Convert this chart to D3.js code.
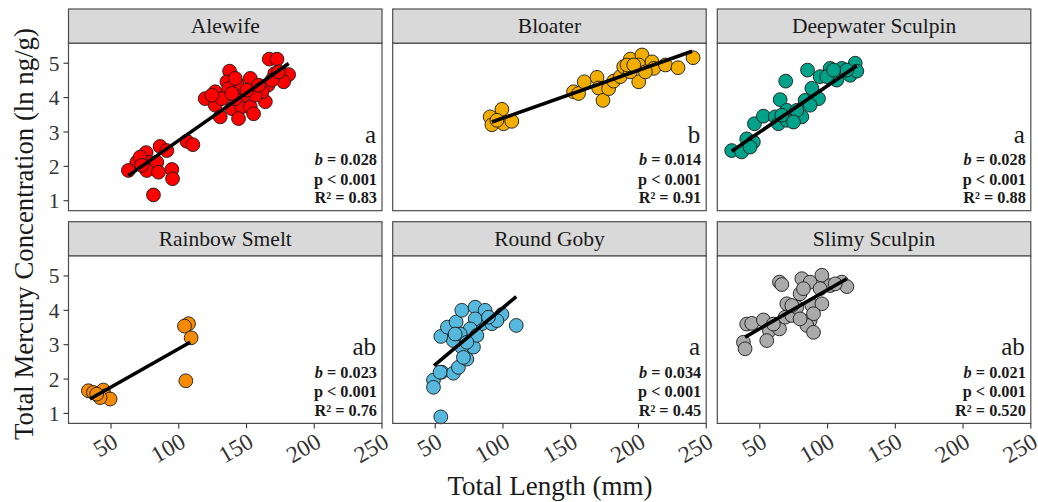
<!DOCTYPE html>
<html><head><meta charset="utf-8">
<script src="https://cdn.jsdelivr.net/npm/d3@7"></script>
<style>
body{margin:0;background:#fff}
svg{display:block}
text{font-family:"Liberation Serif","Times New Roman",serif}
</style>
</head><body>
<svg id="c" width="1038" height="502"></svg>
<script>
const species = ["Alewife","Bloater","Deepwater Sculpin","Rainbow Smelt","Round Goby","Slimy Sculpin"];
const colors = ["#ff0000","#f2ae00","#00a38a","#f58a07","#56b8dc","#aaaaaa"];

const alewifeLength = [166.8,172.5,137.5,152.8,181.1,177.4,170.8,165.8,135.5,142.9,126.9,136.8,119.5,126.9,131.8,139.2,146.6,152.8,155.2,144.1,130.6,163.9,161.4,156.5,147.8,141.7,139.2,150.3,141.7,168.8,173.7,158.9,124.4,106,110.4,86.2,91.2,75.9,69,62.8,77.6,83.8,76.4,85,94.9,95.4,81.3,71.5,72.7];
const alewifeHg = [5.12,5.12,4.77,4.56,4.67,4.46,4.70,4.36,4.46,4.41,4.17,4.26,3.97,3.78,3.97,3.68,3.73,3.73,3.53,3.39,3.44,3.88,4.17,4.07,4.07,3.97,4.12,4.22,4.56,4.51,4.75,4.36,4.07,2.73,2.63,2.58,2.46,2.40,2.12,1.88,2.12,2.12,1.88,1.83,1.91,1.64,1.17,2.27,2.03];

const bloaterLength = [90.5,99.2,91.8,100.4,106.5,95.5,152.1,155.8,160,169.4,170.6,173.8,178,181.7,186.6,189.1,194,202.6,200.2,200.2,210,211.3,219.9,229.2,240.3,194,205.1,191.6,196.5];
const bloaterHg = [3.44,3.66,3.21,3.24,3.31,3.34,4.17,4.12,4.46,4.59,4.28,3.92,4.26,4.48,4.61,4.90,5.12,5.24,4.95,4.46,5.04,4.85,4.95,4.87,5.16,4.75,4.75,4.95,4.95];

const deepwaterLength = [29.2,36.6,40.3,45.2,46,52.6,65,69.1,85.2,61.3,63.7,69.9,69.9,81,83.4,90.8,93.3,94.5,101.9,106.8,110.5,116.7,120.4,121.6,99.4,114.2,87.1,77.3,66.2,88.4,104.4,42.8,74.8];
const deepwaterHg = [2.46,2.42,2.80,2.71,3.24,3.46,3.94,4.48,4.80,3.44,3.24,3.63,3.34,3.44,3.92,4.07,3.97,4.61,4.85,4.51,4.85,4.65,5.0,4.77,4.61,4.80,3.78,3.63,3.49,4.27,4.80,2.56,3.29];

const smeltLength = [107.2,104.2,109.1,105.2,33.3,37,44.3,45.6,49.3,41.9,39.4];
const smeltHg = [3.61,3.54,3.20,1.95,1.66,1.61,1.68,1.51,1.42,1.46,1.56];

const gobyLength = [54.1,48.7,48.7,54.8,63.4,67.1,73.3,78.2,69.6,63.4,54.1,59,65.4,69.6,79.5,86.8,84.4,91.8,99.2,109.8,79.5,75.8,68.4,80.7,73.3,70.8,64.7,53.6,95.5,89.3];
const gobyHg = [0.90,1.97,1.76,2.20,2.17,2.34,2.58,2.93,2.93,3.12,3.24,3.51,3.66,4.0,4.09,4.0,3.61,3.61,3.88,3.56,3.75,3.46,3.31,3.27,3.07,2.63,3.31,2.2,3.70,3.80];

const slimyLength = [37.9,39.1,40.3,44,52.6,57.1,55.1,64.5,64.5,66.2,69.9,68.7,73.6,79.7,81,87.1,95.8,101.9,110.5,114.2,88.4,95.8,87.1,89.6,84.7,89.6,77.3,73.6,79.7,94.5,82.2,60,105.6];
const slimyHg = [3.07,2.88,3.60,3.62,3.72,3.41,3.12,3.46,4.82,4.75,4.19,3.80,3.85,4.48,4.92,4.82,5.02,4.72,4.82,4.69,4.14,4.19,3.70,3.90,3.56,3.36,4.09,4.14,3.75,4.63,4.63,3.60,4.77];

const fitStart = [[62.8,1.73],[91.8,3.29],[29.2,2.44],[34.5,1.42],[49.1,2.39],[39.1,3.22]];
const fitEnd = [[181.1,4.99],[239.6,5.35],[121.6,4.93],[108.4,3.07],[109.8,4.40],[114.2,4.92]];

const sigLetters = ["a","b","a","ab","a","ab"];
const slopeText = ["0.028","0.014","0.028","0.023","0.034","0.021"];
const pText = ["p < 0.001","p < 0.001","p < 0.001","p < 0.001","p < 0.001","p < 0.001"];
const r2Text = ["0.83","0.91","0.88","0.76","0.45","0.520"];

const xTicks = [50,100,150,200,250];
const yTicks = [1,2,3,4,5];

const lengths = [alewifeLength,bloaterLength,deepwaterLength,smeltLength,gobyLength,slimyLength];
const hgs = [alewifeHg,bloaterHg,deepwaterHg,smeltHg,gobyHg,slimyHg];

const colX = [68.5, 392.7, 717.3];
const stripTop = [9, 221.7];
const stripH = 34.3;
const PW = 313.5, PH = 167.4;

const x = d3.scaleLinear().domain([18.6,250]).range([0,PW]);
const y = d3.scaleLinear().domain([0.71,5.58]).range([PH,0]);

const svg = d3.select("#c");

species.forEach((sp,i)=>{
  const col = i%3, row = Math.floor(i/3);
  const g = svg.append("g").attr("transform",`translate(${colX[col]},${stripTop[row]})`);
  g.append("rect").attr("x",0).attr("y",0).attr("width",PW).attr("height",stripH)
    .attr("fill","#d9d9d9").attr("stroke","#4d4d4d").attr("stroke-width",1.2);
  g.append("text").attr("x",PW/2).attr("y",24.3).attr("text-anchor","middle")
    .attr("font-size","21.5px").attr("fill","#1a1a1a").text(sp);
  const p = g.append("g").attr("transform",`translate(0,${stripH})`);
  p.append("rect").attr("width",PW).attr("height",PH).attr("fill","#fff");
  const data = lengths[i].map((L,k)=>({L, H: hgs[i][k]}));
  p.selectAll("circle").data(data).join("circle")
    .attr("cx",d=>x(d.L)).attr("cy",d=>y(d.H)).attr("r",6.9)
    .attr("fill",colors[i]).attr("stroke","#1a1a1a").attr("stroke-width",0.9);
  p.append("line").attr("x1",x(fitStart[i][0])).attr("y1",y(fitStart[i][1]))
    .attr("x2",x(fitEnd[i][0])).attr("y2",y(fitEnd[i][1]))
    .attr("stroke","#000").attr("stroke-width",3.6).attr("stroke-linecap","butt");
  p.append("rect").attr("width",PW).attr("height",PH).attr("fill","none")
    .attr("stroke","#4d4d4d").attr("stroke-width",1.2);
  p.append("text").attr("x",PW-6).attr("y",PH-68).attr("text-anchor","end")
    .attr("font-size","25px").attr("fill","#1a1a1a").text(sigLetters[i]);
  const t1 = p.append("text").attr("x",PW-5).attr("y",PH-45.5).attr("text-anchor","end")
    .attr("font-size","16.3px").attr("font-weight","bold").attr("fill","#1a1a1a");
  t1.append("tspan").attr("font-style","italic").text("b");
  t1.append("tspan").text(" = " + slopeText[i]);
  p.append("text").attr("x",PW-5).attr("y",PH-26).attr("text-anchor","end")
    .attr("font-size","16.3px").attr("font-weight","bold").attr("fill","#1a1a1a").text(pText[i]);
  p.append("text").attr("x",PW-5).attr("y",PH-7.5).attr("text-anchor","end")
    .attr("font-size","16.3px").attr("font-weight","bold").attr("fill","#1a1a1a").text("R\u00b2 = " + r2Text[i]);
  if(col===0){
    yTicks.forEach(t=>{
      p.append("line").attr("x1",-5).attr("x2",0).attr("y1",y(t)).attr("y2",y(t))
        .attr("stroke","#333").attr("stroke-width",1.1);
      p.append("text").attr("x",-9).attr("y",y(t)).attr("dy","0.35em").attr("text-anchor","end")
        .attr("font-size","21.5px").attr("fill","#333").text(t);
    });
  }
  if(row===1){
    xTicks.forEach(t=>{
      p.append("line").attr("x1",x(t)).attr("x2",x(t)).attr("y1",PH).attr("y2",PH+5)
        .attr("stroke","#333").attr("stroke-width",1.1);
      p.append("text").attr("transform",`translate(${x(t)},${PH+8}) rotate(-30)`)
        .attr("dy","0.72em").attr("text-anchor","end")
        .attr("font-size","23.5px").attr("fill","#333").text(t);
    });
  }
});

svg.append("text").attr("transform","translate(33,234) rotate(-90)").attr("text-anchor","middle")
  .attr("font-size","26.8px").attr("fill","#1a1a1a").text("Total Mercury Concentration (ln ng/g)");
svg.append("text").attr("x",550).attr("y",495).attr("text-anchor","middle")
  .attr("font-size","27px").attr("fill","#1a1a1a").text("Total Length (mm)");
</script>
</body></html>
